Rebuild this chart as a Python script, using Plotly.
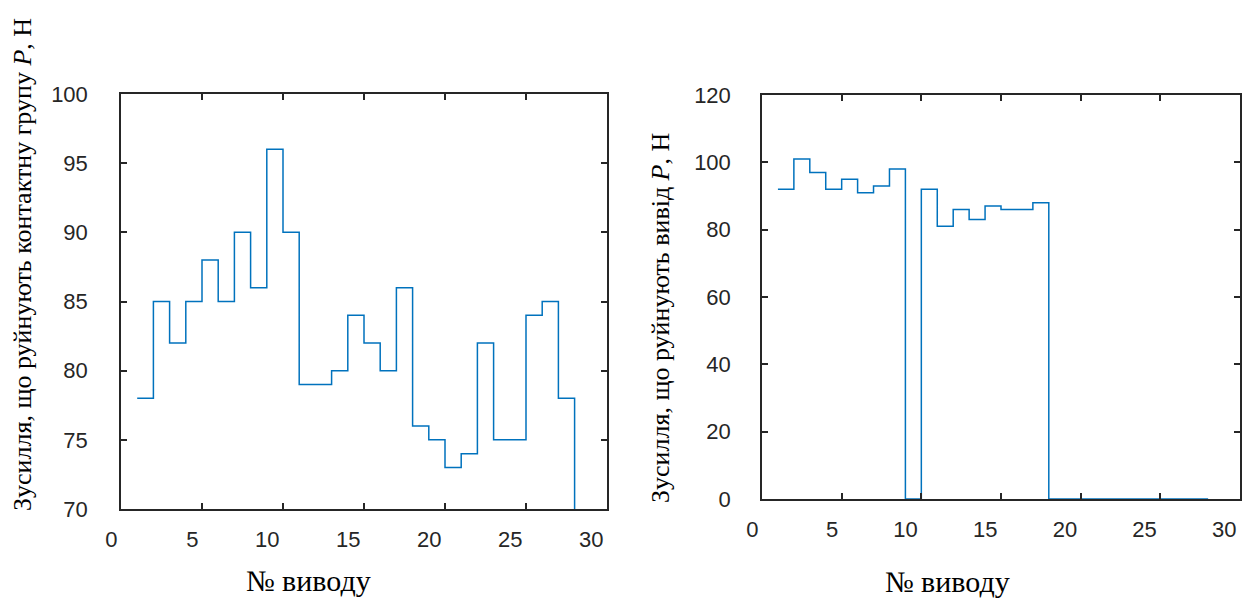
import plotly.graph_objects as go

# ---- data ----
pins = list(range(1, 29))
force_group = [78, 85, 82, 85, 88, 85, 90, 86, 96, 90, 79, 79, 80, 84, 82, 80, 86,
               76, 75, 73, 74, 82, 75, 75, 84, 85, 78, 0]
force_pin = [92, 101, 97, 92, 95, 91, 93, 98, 0, 92, 81, 86, 83, 87, 86, 86, 88,
             0, 0, 0, 0, 0, 0, 0, 0, 0, 0, 0]
x_ticks = [0, 5, 10, 15, 20, 25, 30]
y1_ticks = [70, 75, 80, 85, 90, 95, 100]
y2_ticks = [0, 20, 40, 60, 80, 100, 120]
x_title = "№ виводу"
y1_title = "Зусилля, що руйнують контактну групу <i>P</i>, Н"
y2_title = "Зусилля, що руйнують вивід <i>P</i>, Н"

W, H = 1252, 600
BLUE = "#0072BD"
AX = "#262626"
tickfont = dict(family="Liberation Sans, Arial, sans-serif", size=22, color=AX)
serif = "Liberation Serif, Times New Roman, serif"


def px_x(p):
    return p / W


def px_y(p):
    return 1 - p / H


fig = go.Figure()
fig.add_trace(go.Scatter(x=pins, y=force_group, mode="lines", line_shape="hv",
                         line=dict(color=BLUE, width=1.5), xaxis="x", yaxis="y",
                         showlegend=False, hoverinfo="skip"))
fig.add_trace(go.Scatter(x=pins, y=force_pin, mode="lines", line_shape="hv",
                         line=dict(color=BLUE, width=1.5), xaxis="x2", yaxis="y2",
                         showlegend=False, hoverinfo="skip"))

common = dict(showline=True, linecolor=AX, linewidth=1.5, mirror="ticks",
              ticks="inside", ticklen=6, tickwidth=1.5, tickcolor=AX,
              showgrid=False, zeroline=False, tickfont=tickfont, fixedrange=True,
              automargin=False)

xcommon = dict(common, range=[0, 30], tickvals=x_ticks,
               ticktext=[str(v) for v in x_ticks],
               ticklabelposition="outside left", ticklabelshift=-2,
               ticklabelstandoff=10)

fig.update_layout(
    template="none",
    width=W, height=H,
    margin=dict(l=0, r=0, t=0, b=0, autoexpand=False),
    paper_bgcolor="white", plot_bgcolor="white",
    xaxis=dict(xcommon, domain=[px_x(121), px_x(607)], anchor="y"),
    yaxis=dict(common, domain=[px_y(509), px_y(94)], range=[70, 100],
               tickvals=y1_ticks, anchor="x", ticklabelstandoff=27),
    xaxis2=dict(xcommon, domain=[px_x(762), px_x(1240)], anchor="y2"),
    yaxis2=dict(common, domain=[px_y(499), px_y(95)], range=[0, 120],
                tickvals=y2_ticks, anchor="x2", ticklabelstandoff=25,
                layer="below traces"),
)

annots = [
    dict(text=x_title, x=px_x(308), y=px_y(580), font=dict(family=serif, size=30, color="black")),
    dict(text=x_title, x=px_x(947), y=px_y(581), font=dict(family=serif, size=30, color="black")),
    dict(text=y1_title, x=px_x(22), y=px_y(265), textangle=-90,
         font=dict(family=serif, size=26, color="black")),
    dict(text=y2_title, x=px_x(660), y=px_y(318), textangle=-90,
         font=dict(family=serif, size=26, color="black")),
]
for a in annots:
    fig.add_annotation(xref="paper", yref="paper", showarrow=False,
                       xanchor="center", yanchor="middle", **a)

fig.write_html("out.html")
